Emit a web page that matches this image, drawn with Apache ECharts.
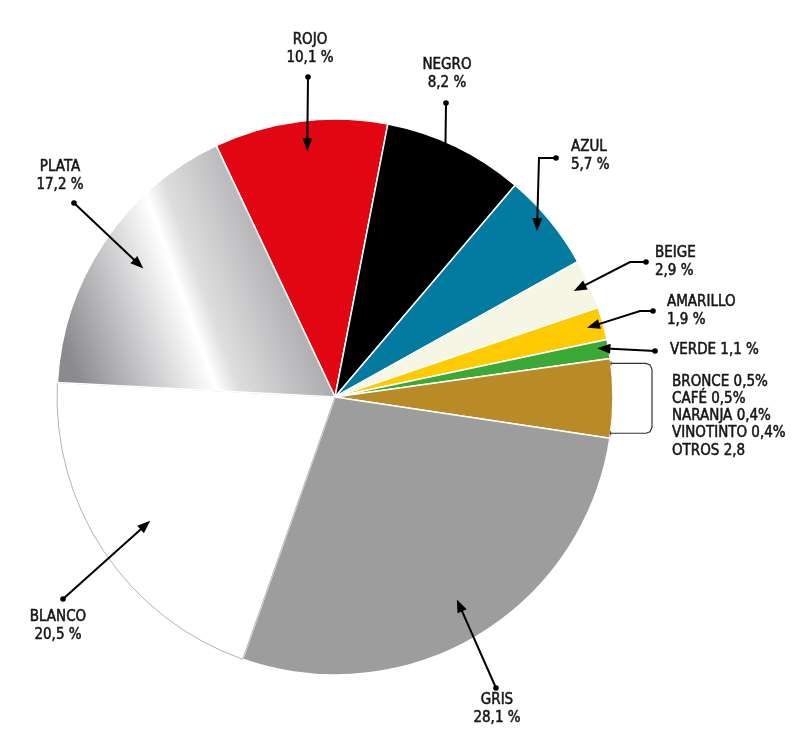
<!DOCTYPE html>
<html lang="es">
<head>
    <meta charset="utf-8">
    <title>Colores de vehículos</title>
    <script src="https://cdn.jsdelivr.net/npm/echarts@6/dist/echarts.min.js"></script>
    <style>
        html, body { margin: 0; padding: 0; background: #fff; }
        #pie-chart { width: 800px; height: 738px; }
    </style>
</head>
<body>
<div id="pie-chart"></div>
<script>
    // datos del gráfico (porcentaje por color)
    var colores = ['ROJO', 'NEGRO', 'AZUL', 'BEIGE', 'AMARILLO', 'VERDE', 'OTROS', 'GRIS', 'BLANCO', 'PLATA'];
    var porcentajes = [10.1, 8.2, 5.7, 2.9, 1.9, 1.1, 4.6, 28.1, 20.5, 17.2];
    // detalle del grupo "otros" (tajada color bronce)
    var otrosNombres = ['BRONCE', 'CAFÉ', 'NARANJA', 'VINOTINTO', 'OTROS'];
    var otrosValores = [0.5, 0.5, 0.4, 0.4, 2.8];

    var relleno = {
        ROJO: '#e20613', NEGRO: '#000000', AZUL: '#037aa0', BEIGE: '#f6f6e4',
        AMARILLO: '#fdcb00', VERDE: '#3aa935', OTROS: '#b98b26', GRIS: '#9e9d9d',
        BLANCO: '#ffffff',
        PLATA: {
            type: 'linear', x: 0, y: 0.7, x2: 1, y2: 0.3,
            colorStops: [
                {offset: 0, color: '#8b8a8e'},
                {offset: 0.38, color: '#f2f2f3'},
                {offset: 0.43, color: '#ffffff'},
                {offset: 0.50, color: '#dededf'},
                {offset: 1, color: '#8a898d'}
            ]
        }
    };

    // posición de cada rótulo, punto de partida de la flecha, codo opcional
    // y punto de llegada dentro de la tajada (fracción de radio y de ángulo)
    var rotulos = [
        {x: 310, y: 31, align: 'center', punto: [308, 77], tip: 0.89, frac: 0.52},
        {x: 447, y: 56, align: 'center', punto: [446, 103], tip: 0.78, frac: 0.66},
        {x: 571, y: 138, align: 'left', punto: [556, 158], codo: [539, 158], tip: 0.94},
        {x: 655, y: 244, align: 'left', punto: [646, 262], codo: [630, 262], tip: 0.94},
        {x: 667, y: 293, align: 'left', punto: [653, 311], codo: [640, 311], tip: 0.94},
        {x: 670, y: 341, align: 'left', punto: [655, 351], tip: 0.96, frac: 0.35},
        {x: 672, y: 373, align: 'left'},
        {x: 497, y: 691, align: 'center', punto: [496, 688], tip: 0.85},
        {x: 58, y: 608, align: 'center', punto: [63, 599], tip: 0.80},
        {x: 60, y: 158, align: 'center', punto: [74, 203], tip: 0.83}
    ];

    function coma(v) {
        return String(v).replace('.', ',');
    }

    function textoRotulo(i) {
        if (colores[i] === 'OTROS') {
            return otrosNombres.map(function (n, k) {
                return n + ' ' + coma(otrosValores[k]) + (k < otrosNombres.length - 1 ? '%' : '');
            }).join('\n');
        }
        if (colores[i] === 'VERDE') return colores[i] + ' ' + coma(porcentajes[i]) + ' %';
        return colores[i] + '\n' + coma(porcentajes[i]) + ' %';
    }

    var chart = echarts.init(document.getElementById('pie-chart'));
    var option = {
        animation: false,
        backgroundColor: '#fff',
        series: [{
            type: 'pie',
            center: [335, 397],
            radius: 278,
            startAngle: 115.3,
            avoidLabelOverlap: false,
            silent: true,
            itemStyle: {borderColor: '#fff', borderWidth: 1.5},
            label: {
                show: true,
                position: 'outside',
                color: '#151515',
                fontFamily: '"DejaVu Sans Condensed", sans-serif',
                fontWeight: 'normal',
                fontSize: 15,
                lineHeight: 18,
                textBorderColor: '#151515',
                textBorderWidth: 0.5,
                formatter: function (p) { return textoRotulo(p.dataIndex); }
            },
            labelLine: {show: false},
            labelLayout: function (p) {
                var r = rotulos[p.dataIndex];
                return {x: r.x, y: r.y, align: r.align, verticalAlign: 'top'};
            },
            data: colores.map(function (c, i) {
                var d = {name: c, value: porcentajes[i], itemStyle: {color: relleno[c]}};
                if (c === 'BLANCO') d.itemStyle.borderColor = '#b4b4b4';
                if (c === 'BLANCO') d.itemStyle.borderWidth = 1;
                if (c === 'OTROS') d.label = {lineHeight: 17.3};
                return d;
            })
        }]
    };
    chart.setOption(option);

    // flechas y corchete a partir del layout calculado por echarts
    var datos = chart.getModel().getSeriesByIndex(0).getData();
    var graficos = [];
    var tinta = '#000';
    colores.forEach(function (c, i) {
        var lay = datos.getItemLayout(i);
        var rot = rotulos[i];
        if (c === 'OTROS') {
            var a1 = lay.startAngle + 0.018, a2 = lay.endAngle - 0.018;
            var p1 = [lay.cx + lay.r * Math.cos(a1), lay.cy + lay.r * Math.sin(a1)];
            var p2 = [lay.cx + lay.r * Math.cos(a2), lay.cy + lay.r * Math.sin(a2)];
            var bx = lay.cx + lay.r + 39;
            graficos.push({
                type: 'polyline', z: 100,
                shape: {points: [p1, [bx - 6, p1[1]], [bx - 2, p1[1] + 1.5], [bx, p1[1] + 6],
                    [bx, p2[1] - 6], [bx - 2, p2[1] - 1.5], [bx - 6, p2[1]], p2]},
                style: {stroke: '#333', lineWidth: 1.2, fill: null}
            });
            graficos.push({type: 'line', z: 100, shape: {x1: p1[0], y1: p1[1] - 2, x2: p1[0], y2: p1[1] + 2}, style: {stroke: '#333', lineWidth: 1}});
            graficos.push({type: 'line', z: 100, shape: {x1: p2[0], y1: p2[1] - 2, x2: p2[0], y2: p2[1] + 2}, style: {stroke: '#333', lineWidth: 1}});
            return;
        }
        var f = rot.frac == null ? 0.5 : rot.frac;
        var ang = lay.startAngle + (lay.endAngle - lay.startAngle) * f;
        var punta = [lay.cx + lay.r * rot.tip * Math.cos(ang), lay.cy + lay.r * rot.tip * Math.sin(ang)];
        var pts = [rot.punto];
        if (rot.codo) pts.push(rot.codo);
        pts.push(punta);
        var prev = pts[pts.length - 2];
        var dx = punta[0] - prev[0], dy = punta[1] - prev[1];
        var len = Math.sqrt(dx * dx + dy * dy);
        dx /= len; dy /= len;
        var L = 13, W = 5;
        var base = [punta[0] - dx * L, punta[1] - dy * L];
        pts[pts.length - 1] = [punta[0] - dx * 4, punta[1] - dy * 4];
        graficos.push({type: 'polyline', z: 100, shape: {points: pts}, style: {stroke: tinta, lineWidth: 2, fill: null}});
        graficos.push({type: 'circle', z: 100, shape: {cx: rot.punto[0], cy: rot.punto[1], r: 2.8}, style: {fill: tinta}});
        graficos.push({
            type: 'polygon', z: 100,
            shape: {points: [punta, [base[0] - dy * W, base[1] + dx * W], [base[0] + dy * W, base[1] - dx * W]]},
            style: {fill: tinta}
        });
    });
    chart.setOption({graphic: {elements: graficos}});
</script>
</body>
</html>
